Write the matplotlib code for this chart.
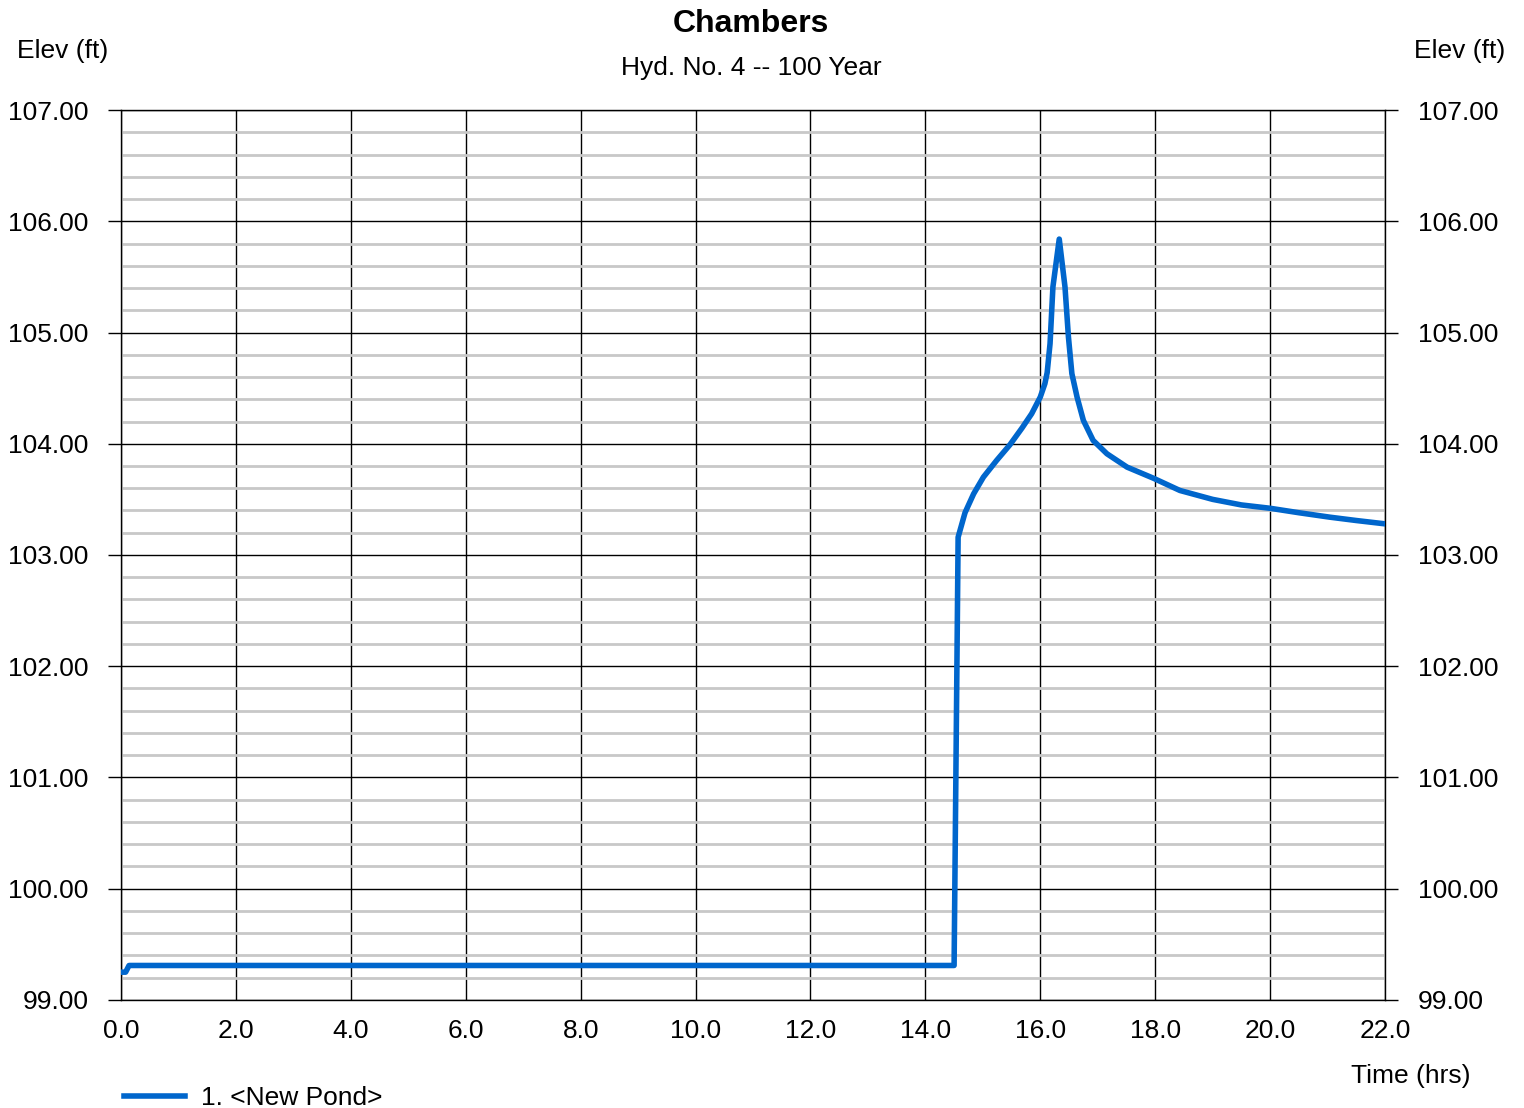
import matplotlib
matplotlib.use("Agg")
import matplotlib.pyplot as plt
import numpy as np

plt.rcParams['font.family'] = ['Liberation Sans', 'DejaVu Sans']

# stage hydrograph
time_hrs = [0.0, 0.08, 0.14, 3.0, 8.0, 12.0, 14.5,
            14.57, 14.69, 14.84, 15.01, 15.24, 15.47, 15.68, 15.85, 16.0, 16.08,
            16.12, 16.17, 16.22, 16.33, 16.43, 16.49, 16.55, 16.64, 16.75, 16.92,
            17.16, 17.51, 17.97, 18.43, 19.0, 19.5, 20.0, 20.5, 21.04, 21.5, 22.0]
elev_ft = [99.25, 99.25, 99.31, 99.31, 99.31, 99.31, 99.31,
           103.16, 103.38, 103.55, 103.70, 103.85, 103.99, 104.14, 104.27, 104.42, 104.54,
           104.64, 104.90, 105.41, 105.84, 105.41, 104.96, 104.63, 104.42, 104.21, 104.03,
           103.91, 103.79, 103.69, 103.58, 103.50, 103.45, 103.42, 103.38, 103.34, 103.31, 103.28]

x_ticks = np.arange(0, 22.1, 2.0)
y_ticks = np.arange(99, 107.1, 1.0)

fig = plt.figure(figsize=(15.24, 11.08), dpi=100)
ax = fig.add_axes([0.0794, 0.0975, 0.8294, 0.8032])

ax.plot(time_hrs, elev_ft, color='#0066cc', lw=4.0, solid_joinstyle='round', zorder=5,
        label='1. <New Pond>')

ax.set_xlim(0, 22)
ax.set_ylim(99, 107)
ax.set_xticks(x_ticks)
ax.set_xticklabels([f"{t:.1f}" for t in x_ticks])
ax.set_yticks(y_ticks)
ax.set_yticklabels([f"{v:.2f}" for v in y_ticks])
ax.set_yticks(np.arange(99, 107.01, 0.2), minor=True)

ax.grid(which='minor', axis='y', color='#c8c8c8', lw=2.0, zorder=1)
ax.grid(which='major', axis='both', color='black', lw=1.0, zorder=2)

ax.tick_params(axis='x', length=0, labelsize=19, pad=13.5)
ax.tick_params(axis='y', which='major', length=9.4, width=1, labelsize=19, pad=14,
               left=True, right=True, labelleft=True, labelright=True)
ax.tick_params(axis='y', which='minor', length=0)
for s in ax.spines.values():
    s.set_linewidth(1.0)

fig.text(0.493, 0.978, 'Chambers', ha='center', va='center', fontsize=23, fontweight='bold')
fig.text(0.493, 0.939, 'Hyd. No. 4 -- 100 Year', ha='center', va='center', fontsize=19)
fig.text(0.011, 0.954, 'Elev (ft)', ha='left', va='center', fontsize=19)
fig.text(0.988, 0.954, 'Elev (ft)', ha='right', va='center', fontsize=19)
fig.text(0.965, 0.029, 'Time (hrs)', ha='right', va='center', fontsize=19)

fig.legend(loc='center left', bbox_to_anchor=(0.066, 0.009), frameon=False, fontsize=19,
           handlelength=2.3, handletextpad=0.6)

fig.savefig('out.png', dpi=100)
